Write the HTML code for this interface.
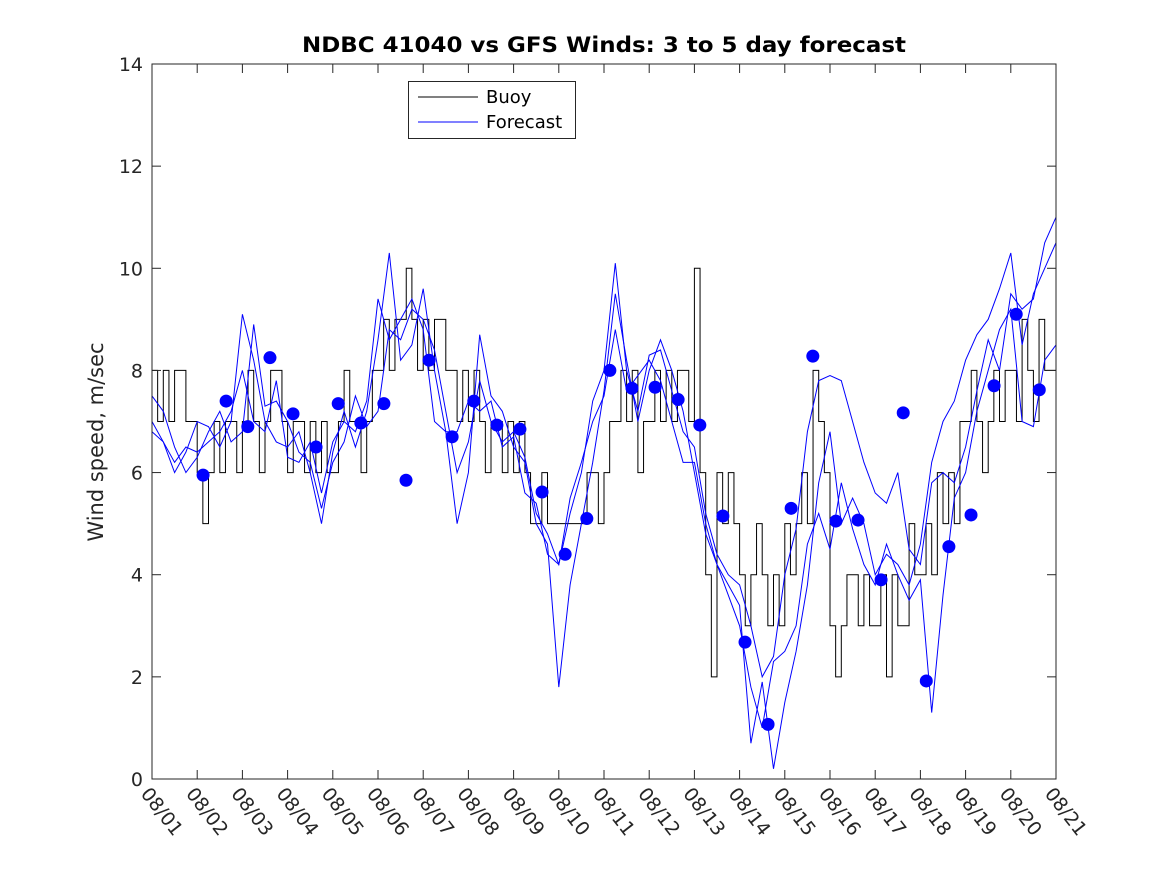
<!DOCTYPE html>
<html><head><meta charset="utf-8"><style>
body{margin:0;background:#fff}
svg{display:block;font-family:"DejaVu Sans","Liberation Sans",sans-serif}
</style></head><body>
<svg id="chart" width="1167" height="875" viewBox="0 0 1167 875" xmlns="http://www.w3.org/2000/svg">
<rect width="1167" height="875" fill="#fff"/>
<text x="604" y="52" text-anchor="middle" font-size="21" font-weight="bold" fill="#000" textLength="604" lengthAdjust="spacingAndGlyphs">NDBC 41040 vs GFS Winds: 3 to 5 day forecast</text>
<text transform="translate(103,442) rotate(-90)" text-anchor="middle" font-size="21" fill="#262626">Wind speed, m/sec</text>
<g id="plot"></g>
</svg>
<script>
const xLabels=["08/01","08/02","08/03","08/04","08/05","08/06","08/07","08/08","08/09","08/10","08/11","08/12","08/13","08/14","08/15","08/16","08/17","08/18","08/19","08/20","08/21"];
const yTicks=[0,2,4,6,8,10,12,14];
const buoy=[8,7,8,7,8,8,7,7, 6,5,6,7,6,7,7,6, 7,8,7,6,7,8,8,7, 6,7,7,6,7,6,7,6, 6,7,8,7,7,6,7,8, 8,9,8,9,9,10,9,8, 9,8,9,9,8,8,7,8, 7,8,7,6,7,7,6,7, 6,7,6,5,5,6,5,5, 5,5,5,5,5,6,6,5, 6,7,7,8,7,8,6,7, 7,8,7,8,7,8,8,7, 10,6,4,2,6,5,6,5, 4,3,4,5,4,3,4,3, 5,4,5,6,5,8,7,6, 3,2,3,4,4,3,4,3, 3,4,2,4,3,3,5,4, 4,5,4,6,5,6,5,7, 7,8,7,6,7,8,7,8, 8,7,9,8,7,9,8,8];
const fc1=[7.5,7.2,6.5,6.0,6.3,6.8,7.2,6.6,6.8,8.9,7.3,7.4,7.0,6.4,6.2,5.3,6.2,6.6,7.5,6.9,7.2,8.8,8.6,9.2,9.0,8.4,7.2,6.0,6.6,7.8,7.0,6.6,6.8,6.3,5.2,4.8,4.2,5.2,6.0,7.4,8.0,10.1,8.0,7.2,8.3,8.4,7.6,6.8,6.5,5.2,4.4,4.0,3.8,3.0,2.0,2.4,4.0,4.9,6.8,7.8,7.9,7.8,7.0,6.2,5.6,5.4,6.0,4.5,4.2,5.8,6.0,5.8,6.5,7.6,8.6,8.0,9.5,9.2,9.4,10.5,11.0];
const fc2=[7.0,6.6,6.0,6.4,7.0,6.9,6.5,7.0,9.1,8.2,7.0,6.6,6.5,6.8,6.0,5.0,6.4,7.2,6.5,7.2,8.6,10.3,8.2,8.5,9.6,8.0,6.8,5.0,6.0,8.7,7.5,7.2,6.5,6.2,5.0,4.6,1.8,3.8,5.0,6.2,7.6,9.5,8.2,7.0,8.0,8.6,8.0,7.2,6.0,4.8,4.2,3.8,3.4,0.7,1.9,0.2,1.5,2.5,3.8,5.8,6.8,5.0,5.5,5.0,4.0,4.4,4.2,3.8,4.6,6.2,7.0,7.4,8.2,8.7,9.0,9.6,10.3,8.5,9.5,10.0,10.5];
const fc3=[6.8,6.6,6.2,6.5,6.4,6.6,6.8,7.2,8.0,7.0,6.8,7.8,6.3,6.2,6.6,5.6,6.6,7.0,6.8,7.4,9.4,8.6,9.0,9.4,8.8,7.0,6.8,6.8,7.4,7.2,7.4,6.5,6.7,5.6,5.4,4.4,4.2,5.5,6.2,7.0,7.5,8.8,7.6,7.9,8.2,7.8,7.0,6.2,6.2,5.0,4.2,3.6,3.0,1.8,1.0,2.3,2.5,3.0,4.6,5.2,4.5,5.8,4.9,4.2,3.8,4.6,4.0,3.5,3.9,1.3,3.6,5.5,6.0,7.2,8.0,8.8,9.2,7.0,6.9,8.2,8.5];
const dotDays=[1.13,1.64,2.12,2.61,3.12,3.63,4.12,4.62,5.13,5.62,6.13,6.64,7.12,7.63,8.14,8.63,9.14,9.62,10.13,10.62,11.13,11.64,12.12,12.63,13.12,13.63,14.14,14.62,15.13,15.62,16.13,16.62,17.13,17.63,18.12,18.63,19.12,19.63];
const dotVals=[5.95,7.4,6.9,8.25,7.15,6.5,7.35,6.97,7.35,5.85,8.2,6.7,7.4,6.93,6.85,5.62,4.4,5.1,8.0,7.65,7.67,7.43,6.93,5.15,2.68,1.07,5.3,8.28,5.05,5.07,3.9,7.17,1.92,4.55,5.17,7.7,9.1,7.62];

const X0=152,X1=1056,Y0=779,Y1=64;
const xs=d=>X0+(X1-X0)*d/20, ys=v=>Y0-(Y0-Y1)*v/14;
const NS="http://www.w3.org/2000/svg";
const g=document.getElementById('plot');
function el(t,a,p){const e=document.createElementNS(NS,t);for(const k in a)e.setAttribute(k,a[k]);(p||g).appendChild(e);return e;}

const box=el('rect',{x:X0,y:Y1,width:X1-X0,height:Y0-Y1,fill:'#fff',stroke:'none'});



let d='';
buoy.forEach((v,i)=>{const x=xs(i/8),x2=xs((i+1)/8),y=ys(v);d+=(i?'L':'M')+x+' '+y+'L'+x2+' '+y;});
const bl=el('path',{d:d,fill:'none',stroke:'#000','stroke-width':1});



[fc1,fc2,fc3].forEach((arr,k)=>{
  const p=el('path',{d:arr.map((v,i)=>(i?'L':'M')+xs(i/4)+' '+ys(v)).join(''),fill:'none',stroke:'#0000ff','stroke-width':1});
  
  
});
dotDays.forEach((dd,i)=>{
  const c=el('circle',{cx:xs(dd),cy:ys(dotVals[i]),r:6.5,fill:'#0000ff'});
  
  
});

const frame=el('rect',{x:X0,y:Y1,width:X1-X0,height:Y0-Y1,fill:'none',stroke:'#262626','stroke-width':1});



xLabels.forEach((l,i)=>{
  const x=xs(i);
  el('line',{x1:x,y1:Y0,x2:x,y2:Y0-9,stroke:'#262626'});
  el('line',{x1:x,y1:Y1,x2:x,y2:Y1+9,stroke:'#262626'});
  const t=el('text',{transform:`translate(${x-12},${Y0+15}) rotate(52)`,'font-size':19,fill:'#262626'});
  t.textContent=l;
  
  
});
yTicks.forEach(v=>{
  const y=ys(v);
  el('line',{x1:X0,y1:y,x2:X0+9,y2:y,stroke:'#262626'});
  el('line',{x1:X1,y1:y,x2:X1-9,y2:y,stroke:'#262626'});
  const t=el('text',{x:X0-9,y:y+7,'text-anchor':'end','font-size':19,fill:'#262626'});
  t.textContent=v;
  
  
});

const lg=el('g',{});


el('rect',{x:408.5,y:81.5,width:167,height:57,fill:'#fff',stroke:'#262626'},lg);
el('line',{x1:418,y1:97,x2:478,y2:97,stroke:'#000'},lg);
el('line',{x1:418,y1:122,x2:478,y2:122,stroke:'#0000ff'},lg);
const t1=el('text',{x:486,y:103,'font-size':18,fill:'#000'},lg);t1.textContent='Buoy';


const t2=el('text',{x:486,y:128,'font-size':18,fill:'#000'},lg);t2.textContent='Forecast';


</script>
</body></html>
